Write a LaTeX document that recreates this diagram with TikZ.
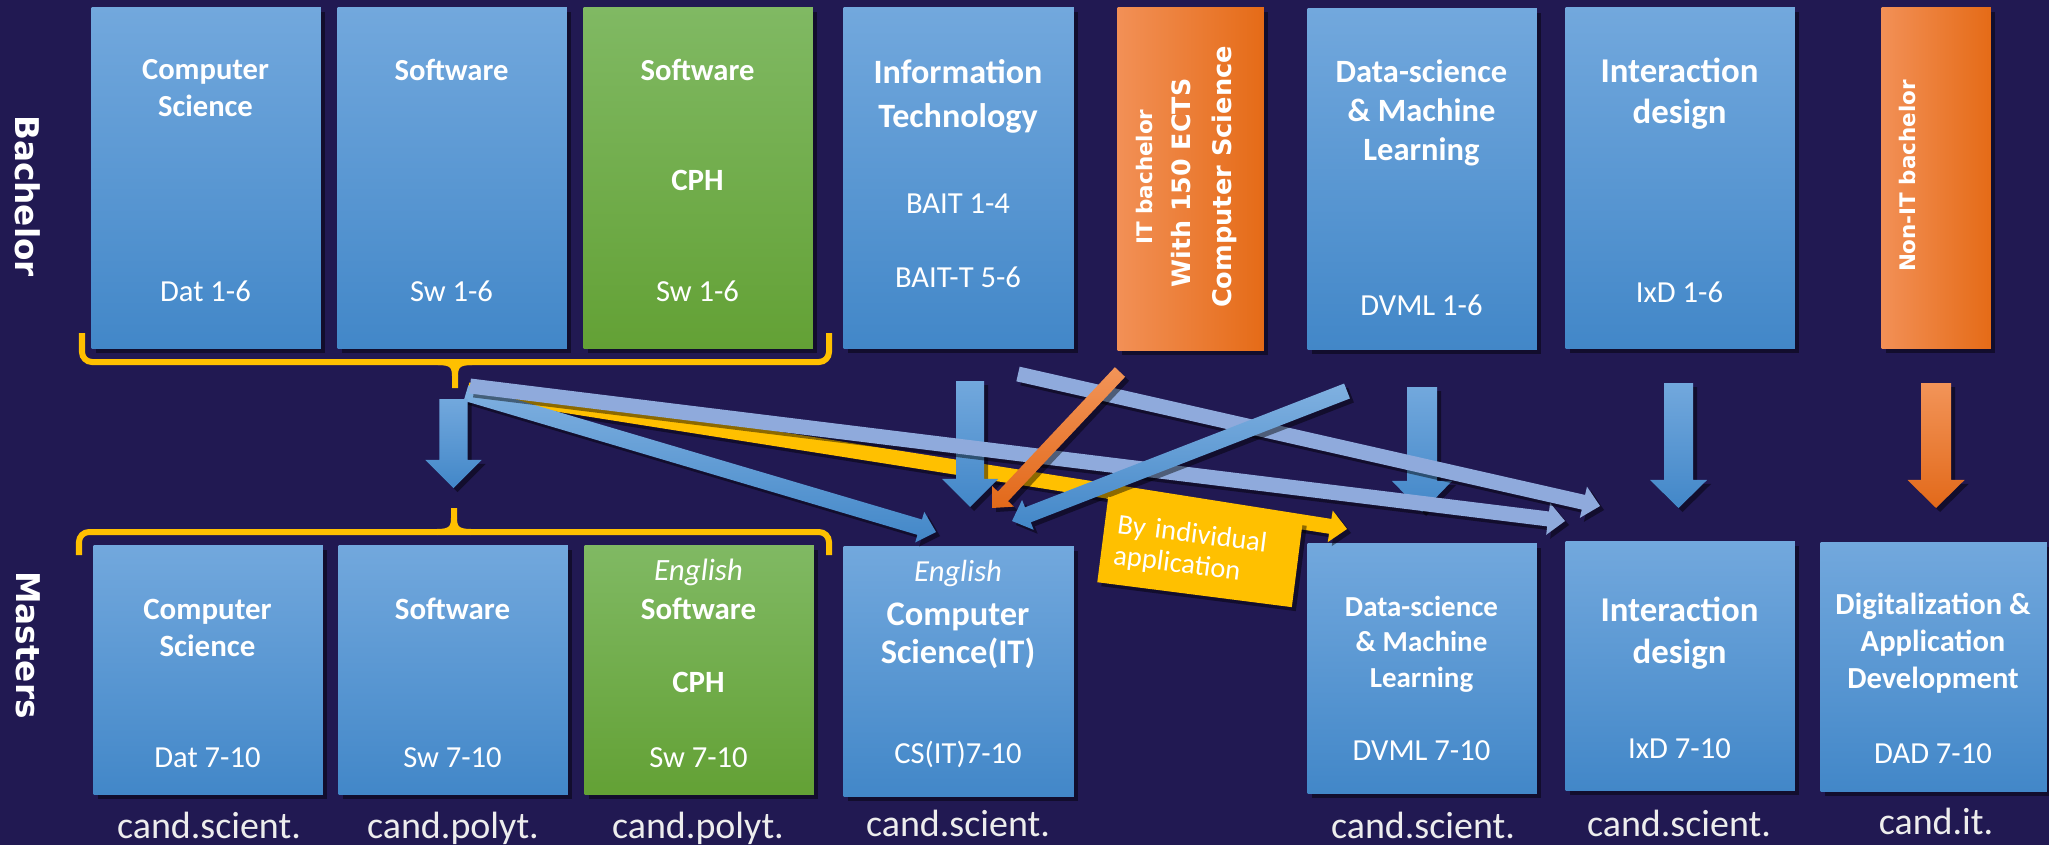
\documentclass[tikz,border=0pt]{standalone}
\usepackage{fontspec}
\setmainfont{Carlito}
\newfontfamily\dvs{DejaVu Sans}
\usetikzlibrary{calc,shadows}
\definecolor{bg}{RGB}{33,25,82}
\definecolor{btop}{RGB}{114,168,221}
\definecolor{bbot}{RGB}{66,135,200}
\definecolor{gtop}{RGB}{128,185,99}
\definecolor{gbot}{RGB}{99,161,53}
\definecolor{oleft}{RGB}{242,144,86}
\definecolor{oright}{RGB}{229,107,23}
\definecolor{otop}{RGB}{242,148,88}
\definecolor{obot}{RGB}{226,105,26}
\definecolor{yel}{RGB}{255,192,0}
\definecolor{lav}{RGB}{143,170,220}
\newcommand{\fsz}[2]{\fontsize{#1}{#2}\selectfont}
% block arrow: #1 style, #2 start, #3 tip, #4 half shaft, #5 half head, #6 head length
\newcommand{\barrow}[6]{%
  \coordinate (hb) at ($(#3)!#6!(#2)$);
  \path[#1] ($(#2)!#4!90:(#3)$) -- ($(hb)!#4!90:(#3)$) -- ($(hb)!#5!90:(#3)$) -- (#3)
    -- ($(hb)!#5!-90:(#3)$) -- ($(hb)!#4!-90:(#3)$) -- ($(#2)!#4!-90:(#3)$) -- cycle;
}
\tikzset{
  shadowed/.style={drop shadow={shadow xshift=0.04cm, shadow yshift=-0.04cm, opacity=0.45, fill=black}},
  pbox/.style={rectangle, inner sep=0, anchor=north west, shadowed},
  bluebox/.style={pbox, top color=btop, bottom color=bbot},
  greenbox/.style={pbox, top color=gtop, bottom color=gbot},
  orangebox/.style={pbox, left color=oleft, right color=oright},
  ttl/.style={text=white, align=center, anchor=base, inner sep=0},
  cd/.style={text=white, anchor=base, inner sep=0, font=\fsz{8.7}{10}},
  degr/.style={text=white!93!black, anchor=base, inner sep=0, font=\fsz{10.8}{13}},
  side/.style={text=white, inner sep=0, font=\dvs\bfseries\fsz{9.3}{11}},
  brace/.style={draw=yel, line width=0.06cm, rounded corners=0.1cm},
  vblue/.style={top color=btop, bottom color=bbot, shadowed},
  dblue/.style={top color=btop!90!white, bottom color=bbot, shadowed},
  lavarrow/.style={fill=lav, shadowed},
  yelarrow/.style={fill=yel, shadowed},
  orarrow/.style={top color=otop, bottom color=obot, shadowed},
}
\begin{document}
\begin{tikzpicture}[x=0.01cm, y=-0.01cm]
\fill[bg] (0,0) rectangle (2049,845);
\useasboundingbox (0,0) rectangle (2049,845);

% side labels
\node[side, rotate=-90] (lblB) at (28,196) {Bachelor};
\node[side, rotate=-90] (lblM) at (28,645) {Masters};

% ---------- Bachelor row ----------
\node[bluebox, minimum width=2.29cm, minimum height=3.41cm] (bCS) at (91,7) {};
\node[ttl, font=\bfseries\fsz{8.7}{10.3}] (bCSt) at (205.5,116) {Computer\\Science};
\node[cd] (bCSc) at (205.5,301) {Dat 1-6};

\node[bluebox, minimum width=2.29cm, minimum height=3.41cm] (bSW) at (337,7) {};
\node[ttl, font=\bfseries\fsz{8.7}{10.5}] (bSWt) at (451.5,80) {Software};
\node[cd] (bSWc) at (451.5,301) {Sw 1-6};

\node[greenbox, minimum width=2.29cm, minimum height=3.41cm] (bSWC) at (583,7) {};
\node[ttl, font=\bfseries\fsz{8.7}{10.5}] (bSWCt) at (697.5,80) {Software};
\node[ttl, font=\bfseries\fsz{8.8}{10.5}] (bSWCp) at (697.5,190) {CPH};
\node[cd] (bSWCc) at (697.5,301) {Sw 1-6};

\node[bluebox, minimum width=2.30cm, minimum height=3.41cm] (bIT) at (843,7) {};
\node[ttl, font=\bfseries\fsz{9.7}{12.5}] (bITt) at (958,127) {Information\\Technology};
\node[cd] (bITc1) at (958,213) {BAIT 1-4};
\node[cd] (bITc2) at (958,287) {BAIT-T 5-6};

\node[orangebox, minimum width=1.46cm, minimum height=3.43cm] (bITO) at (1117,7) {};
\node[rotate=90, text=white, inner sep=0, font=\dvs\bfseries\fsz{6.1}{7}] (bITO1) at (1144,177) {IT bachelor};
\node[rotate=90, text=white, inner sep=0, font=\dvs\bfseries\fsz{7.2}{8}] (bITO2) at (1181,183) {With 150 ECTS};
\node[rotate=90, text=white, inner sep=0, font=\dvs\bfseries\fsz{7.3}{8}] (bITO3) at (1224,177) {Computer Science};

\node[bluebox, minimum width=2.29cm, minimum height=3.41cm] (bDS) at (1307,8) {};
\node[ttl, font=\bfseries\fsz{9.25}{11}] (bDSt) at (1421.5,160) {Data-science\\\& Machine\\Learning};
\node[cd] (bDSc) at (1421.5,315) {DVML 1-6};

\node[bluebox, minimum width=2.29cm, minimum height=3.41cm] (bIxD) at (1565,7) {};
\node[ttl, font=\bfseries\fsz{9.9}{11.4}] (bIxDt) at (1679.5,123) {Interaction\\design};
\node[cd] (bIxDc) at (1679.5,302) {IxD 1-6};

\node[orangebox, minimum width=1.09cm, minimum height=3.41cm] (bNon) at (1881,7) {};
\node[rotate=90, text=white, inner sep=0, font=\dvs\bfseries\fsz{6.1}{7}] (bNont) at (1907,176) {Non-IT bachelor};

% ---------- Masters row ----------
\node[bluebox, minimum width=2.29cm, minimum height=2.49cm] (mCS) at (93,545) {};
\node[ttl, font=\bfseries\fsz{8.8}{10.5}] (mCSt) at (207.5,656) {Computer\\Science};
\node[cd] (mCSc) at (207.5,767) {Dat 7-10};

\node[bluebox, minimum width=2.29cm, minimum height=2.49cm] (mSW) at (338,545) {};
\node[ttl, font=\bfseries\fsz{8.8}{10.5}] (mSWt) at (452.5,619) {Software};
\node[cd] (mSWc) at (452.5,767) {Sw 7-10};

\node[greenbox, minimum width=2.29cm, minimum height=2.49cm] (mSWC) at (584,545) {};
\node[ttl, font=\itshape\fsz{8.8}{10.5}] (mSWCe) at (698.5,580) {English};
\node[ttl, font=\bfseries\fsz{8.8}{10.5}] (mSWCt) at (698.5,619) {Software};
\node[ttl, font=\bfseries\fsz{8.8}{10.5}] (mSWCp) at (698.5,692) {CPH};
\node[cd] (mSWCc) at (698.5,767) {Sw 7-10};

\node[bluebox, minimum width=2.30cm, minimum height=2.50cm] (mCSIT) at (843,546) {};
\node[ttl, font=\itshape\fsz{8.7}{10.5}] (mCSITe) at (958,581) {English};
\node[ttl, font=\bfseries\fsz{9.8}{10.6}] (mCSITt) at (958,663) {Computer\\Science(IT)};
\node[cd] (mCSITc) at (958,763) {CS(IT)7-10};

\node[bluebox, minimum width=2.29cm, minimum height=2.50cm] (mDS) at (1307,543) {};
\node[ttl, font=\bfseries\fsz{8.25}{10}] (mDSt) at (1421.5,687) {Data-science\\\& Machine\\Learning};
\node[cd] (mDSc) at (1421.5,760) {DVML 7-10};

\node[bluebox, minimum width=2.29cm, minimum height=2.49cm] (mIxD) at (1565,541) {};
\node[ttl, font=\bfseries\fsz{9.9}{11.7}] (mIxDt) at (1679.5,663) {Interaction\\design};
\node[cd] (mIxDc) at (1679.5,758) {IxD 7-10};

\node[bluebox, minimum width=2.26cm, minimum height=2.49cm] (mDAD) at (1820,542) {};
\node[ttl, font=\bfseries\fsz{8.7}{10.4}] (mDADt) at (1933,688) {Digitalization \&\\Application\\Development};
\node[cd] (mDADc) at (1933,763) {DAD 7-10};

% degree labels
\node[degr] (d1) at (209,838) {cand.scient.};
\node[degr] (d2) at (453,838) {cand.polyt.};
\node[degr] (d3) at (698,838) {cand.polyt.};
\node[degr] (d4) at (958,836) {cand.scient.};
\node[degr] (d5) at (1423,838) {cand.scient.};
\node[degr] (d6) at (1679,836) {cand.scient.};
\node[degr] (d7) at (1936,834) {cand.it.};

% ---------- braces ----------
\draw[brace] (82,333) -- (82,362) -- (829,362) -- (829,333);
\draw[draw=yel, line width=0.06cm] (438,362) .. controls (452,362) and (455,366) .. (455,376) -- (455,388);
\draw[draw=yel, line width=0.06cm] (472,362) .. controls (458,362) and (455,366) .. (455,376);
\draw[brace] (79,555) -- (79,532) -- (829,532) -- (829,555);
\draw[draw=yel, line width=0.06cm] (437,532) .. controls (451,532) and (454,528) .. (454,518) -- (454,508);
\draw[draw=yel, line width=0.06cm] (471,532) .. controls (457,532) and (454,528) .. (454,518);

% ---------- arrow end points ----------
\coordinate (vBrS) at (453.5,399);  \coordinate (vBrE) at (453.5,488);
\coordinate (vITS) at (970,381);    \coordinate (vITE) at (970,507);
\coordinate (vDSS) at (1422,387);   \coordinate (vDSE) at (1422,512);
\coordinate (vIxS) at (1678.5,383); \coordinate (vIxE) at (1678.5,508);
\coordinate (vNoS) at (1936,383);   \coordinate (vNoE) at (1936,508);
\coordinate (l1S) at (470,386);     \coordinate (l1E) at (1565,521);
\coordinate (yS) at (468,390);      \coordinate (yE) at (1347,529);
\coordinate (b1S) at (466,393);     \coordinate (b1E) at (936,532);
\coordinate (l2S) at (1018,374);    \coordinate (l2E) at (1600,506);
\coordinate (oS) at (1120,372);     \coordinate (oE) at (992,508);
\coordinate (b2S) at (1347,391);    \coordinate (b2E) at (1012,521);

% ---------- arrows ----------
\barrow{yelarrow}{yS}{yE}{0.075cm}{0.16cm}{0.17cm}
\barrow{dblue}{b1S}{b1E}{0.08cm}{0.16cm}{0.17cm}
\barrow{vblue}{vBrS}{vBrE}{0.14cm}{0.28cm}{0.28cm}
\barrow{vblue}{vITS}{vITE}{0.14cm}{0.28cm}{0.28cm}
\barrow{vblue}{vDSS}{vDSE}{0.15cm}{0.30cm}{0.31cm}
\barrow{vblue}{vIxS}{vIxE}{0.145cm}{0.285cm}{0.28cm}
\barrow{orarrow}{vNoS}{vNoE}{0.15cm}{0.285cm}{0.28cm}
\barrow{lavarrow}{l1S}{l1E}{0.075cm}{0.16cm}{0.17cm}
\barrow{lavarrow}{l2S}{l2E}{0.075cm}{0.16cm}{0.17cm}
\barrow{orarrow}{oS}{oE}{0.07cm}{0.15cm}{0.16cm}
\barrow{dblue}{b2S}{b2E}{0.08cm}{0.16cm}{0.17cm}

% individual application label
\node[rotate=-7.3, fill=yel, shadowed, minimum width=1.96cm, minimum height=0.86cm,
      text width=1.70cm, inner xsep=0.13cm, inner ysep=0, align=left, text=white,
      font=\fsz{8.1}{8.9}] (ind) at (1200,552) {By individual\\application};
\end{tikzpicture}
\end{document}
